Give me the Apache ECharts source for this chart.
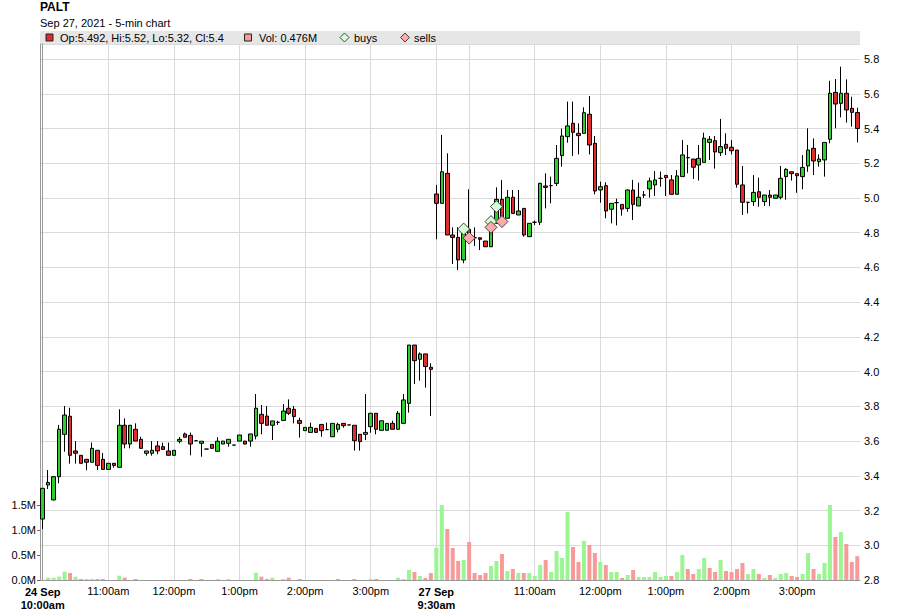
<!DOCTYPE html>
<html><head><meta charset="utf-8">
<script src="https://cdn.jsdelivr.net/npm/echarts@6/dist/echarts.min.js"></script>
<style>html,body{margin:0;padding:0;background:#fff}#c{width:900px;height:616px}</style>
</head><body><div id="c"></div>
<script>
const symbolName = 'PALT';
const subtitle = 'Sep 27, 2021 - 5-min chart';

// 5-minute bars: 24 Sep 10:00–15:55 (72 bars), 27 Sep 9:30–15:55 (78 bars)
const categories = [];
(function () {
  function pad(n) { return (n < 10 ? '0' : '') + n; }
  for (let i = 0; i < 72; i++) { const m = 600 + i * 5; categories.push('2021-09-24 ' + pad(Math.floor(m / 60)) + ':' + pad(m % 60)); }
  for (let i = 0; i < 78; i++) { const m = 570 + i * 5; categories.push('2021-09-27 ' + pad(Math.floor(m / 60)) + ':' + pad(m % 60)); }
})();

const opens = [
3.151,3.347,3.261,3.395,3.639,3.743,3.543,3.518,3.495,3.478,
3.547,3.495,3.437,3.472,3.449,3.691,3.583,3.668,3.610,3.530,
3.530,3.572,3.568,3.543,3.518,3.599,3.641,3.633,3.602,3.587,
3.554,3.581,3.541,3.583,3.587,3.577,3.600,3.600,3.600,3.629,
3.754,3.744,3.691,3.708,3.719,3.789,3.783,3.719,3.660,3.650,
3.673,3.696,3.666,3.625,3.668,3.702,3.693,3.691,3.639,3.639,
3.683,3.760,3.662,3.662,3.702,3.668,3.702,3.817,4.153,4.071,
4.102,4.025,5.023,4.969,5.142,4.787,4.773,4.643,4.819,4.771,
4.771,4.752,4.719,4.854,4.992,4.883,5.004,4.902,4.940,4.777,
4.860,4.860,5.069,5.071,5.084,5.244,5.353,5.430,5.372,5.372,
5.482,5.315,5.046,5.071,4.935,4.973,4.963,4.940,5.046,4.954,
5.017,5.052,5.075,5.113,5.130,5.104,5.021,5.123,5.232,5.224,
5.190,5.205,5.320,5.330,5.261,5.309,5.292,5.276,5.075,4.975,
4.979,5.036,4.979,5.017,4.998,5.004,5.123,5.151,5.140,5.123,
5.184,5.286,5.209,5.219,5.338,5.608,5.545,5.603,5.516,5.492];

const highs = [
3.328,3.433,3.397,3.693,3.802,3.792,3.600,3.518,3.495,3.591,
3.547,3.531,3.472,3.472,3.783,3.731,3.691,3.702,3.625,3.543,
3.600,3.600,3.591,3.591,3.547,3.623,3.649,3.649,3.602,3.599,
3.554,3.581,3.623,3.600,3.610,3.577,3.635,3.600,3.641,3.871,
3.808,3.802,3.716,3.717,3.813,3.840,3.802,3.735,3.679,3.706,
3.673,3.696,3.706,3.702,3.706,3.702,3.693,3.691,3.639,3.871,
3.760,3.760,3.717,3.702,3.717,3.773,3.871,4.153,4.153,4.111,
4.102,4.048,5.075,5.363,5.257,4.831,4.831,4.854,5.050,4.831,
4.771,4.752,4.873,5.061,5.103,5.046,5.046,5.046,4.940,4.854,
4.870,5.088,5.142,5.123,5.305,5.400,5.555,5.555,5.430,5.522,
5.587,5.357,5.094,5.090,4.969,4.996,4.963,5.050,5.104,5.088,
5.040,5.117,5.155,5.152,5.130,5.132,5.161,5.334,5.305,5.224,
5.305,5.376,5.357,5.357,5.455,5.372,5.334,5.276,5.184,4.975,
5.132,5.117,5.017,5.046,5.017,5.184,5.171,5.151,5.140,5.247,
5.401,5.343,5.251,5.320,5.675,5.685,5.756,5.683,5.583,5.52];

const lows = [
3.094,3.324,3.259,3.357,3.539,3.470,3.470,3.472,3.432,3.478,
3.433,3.437,3.437,3.447,3.449,3.558,3.558,3.600,3.558,3.516,
3.516,3.524,3.552,3.518,3.518,3.587,3.622,3.518,3.602,3.510,
3.554,3.558,3.541,3.583,3.568,3.577,3.600,3.581,3.568,3.610,
3.639,3.691,3.606,3.693,3.719,3.750,3.702,3.620,3.660,3.650,
3.650,3.625,3.666,3.625,3.650,3.677,3.693,3.545,3.545,3.606,
3.648,3.639,3.662,3.662,3.668,3.668,3.702,3.764,3.929,3.948,
3.908,3.744,4.762,4.969,4.787,4.620,4.585,4.624,4.770,4.723,
4.700,4.719,4.719,4.854,4.888,4.883,4.911,4.902,4.777,4.777,
4.844,4.844,4.940,4.969,5.069,5.180,5.318,5.242,5.251,5.372,
5.251,5.021,4.973,4.883,4.854,4.842,4.898,4.921,4.873,4.954,
5.000,5.002,5.011,5.065,5.011,5.021,5.021,5.123,5.142,5.109,
5.100,5.205,5.219,5.169,5.242,5.247,5.251,5.059,4.902,4.911,
4.954,4.950,4.954,4.954,4.998,4.992,4.990,5.100,5.030,5.050,
5.151,5.132,5.180,5.123,5.315,5.401,5.464,5.434,5.411,5.32];

const closes = [
3.328,3.362,3.395,3.668,3.750,3.518,3.530,3.472,3.478,3.558,
3.460,3.437,3.472,3.460,3.691,3.583,3.691,3.600,3.558,3.543,
3.547,3.543,3.552,3.518,3.547,3.610,3.622,3.583,3.602,3.599,
3.554,3.558,3.599,3.600,3.610,3.577,3.635,3.583,3.641,3.789,
3.702,3.691,3.716,3.708,3.773,3.760,3.741,3.702,3.679,3.679,
3.650,3.660,3.666,3.702,3.696,3.689,3.693,3.602,3.597,3.650,
3.760,3.668,3.717,3.702,3.668,3.760,3.837,4.153,4.063,4.102,
4.029,4.013,4.969,5.151,4.787,4.773,4.643,4.796,4.787,4.771,
4.762,4.719,4.864,4.992,4.888,5.004,4.911,4.925,4.787,4.854,
4.860,5.084,5.061,5.071,5.228,5.357,5.415,5.378,5.359,5.491,
5.305,5.040,5.065,4.925,4.969,4.973,4.936,5.046,4.963,5.004,
5.017,5.098,5.104,5.113,5.117,5.021,5.127,5.248,5.232,5.177,
5.228,5.344,5.338,5.265,5.296,5.286,5.272,5.079,4.975,4.975,
5.032,5.004,5.017,5.004,5.017,5.113,5.165,5.140,5.128,5.176,
5.276,5.213,5.224,5.320,5.603,5.541,5.603,5.507,5.493,5.4];

// volume in millions
const volumes = [
0,0.047,0.047,0.067,0.167,0.14,0.067,0.02,0.02,0.02,
0.02,0.02,0,0,0.087,0.047,0,0.02,0,0,
0,0,0,0,0,0,0,0.02,0,0.02,
0,0,0.02,0,0.02,0,0,0,0,0.147,
0.067,0.02,0.047,0,0.02,0.047,0,0.02,0,0,
0,0,0,0,0.02,0,0,0.02,0,0,
0.02,0.02,0,0,0,0.047,0.02,0.2,0.16,0.08,
0.04,0.14,0.647,1.50,1.02,0.64,0.38,0.40,0.76,0.14,
0.10,0.14,0.28,0.38,0.52,0.18,0.22,0.14,0.14,0.14,
0.08,0.30,0.40,0.16,0.58,0.44,1.36,0.66,0.36,0.78,
0.70,0.54,0.36,0.30,0.16,0.16,0.04,0.10,0.20,0.06,
0.06,0.06,0.16,0.06,0.08,0.08,0.16,0.50,0.22,0.12,
0.22,0.44,0.24,0.16,0.40,0.18,0.16,0.22,0.34,0.12,
0.22,0.12,0.04,0.10,0.04,0.12,0.14,0.08,0.06,0.12,
0.54,0.22,0.12,0.34,1.50,0.86,0.96,0.72,0.36,0.476];

const buyIdx = [77, 82, 83];
const buyPrice = [4.821, 4.864, 4.950];
const sellIdx = [78, 82, 84];
const sellPrice = [4.769, 4.831, 4.864];

const tickIdx = [0, 12, 24, 36, 48, 60, 72, 78, 90, 102, 114, 126, 138];
const tickLabels = ['24 Sep|10:00am', '11:00am', '12:00pm', '1:00pm', '2:00pm', '3:00pm', '27 Sep|9:30am', '', '11:00am', '12:00pm', '1:00pm', '2:00pm', '3:00pm'];
const gridIdx = tickIdx.slice(1);
const volTicks = [0, 0.5, 1.0, 1.5];

const FONT = 'Liberation Sans, Arial, sans-serif';
const GREEN = '#2ccf2c', RED = '#e02c2c';
const VUP = '#9af592', VDOWN = '#f89a9a';

const n = closes.length;
const last = n - 1;
const candleData = opens.map((o, i) => [o, closes[i], lows[i], highs[i]]);
const volData = volumes.map((v, i) => ({
  value: v,
  itemStyle: { color: (i === 0 || closes[i] >= closes[i - 1]) ? VUP : VDOWN }
}));

const chart = echarts.init(document.getElementById('c'), null, { renderer: 'svg' });
chart.setOption({
  animation: false,
  backgroundColor: '#fff',
  textStyle: { fontFamily: FONT },
  grid: { left: 40, right: 40, top: 44, bottom: 36, containLabel: false },
  xAxis: [
    {
      type: 'category', data: categories, boundaryGap: true,
      axisLine: { show: true, lineStyle: { color: '#999' } },
      axisTick: { show: false }, axisLabel: { show: false }, splitLine: { show: false }
    },
    {
      type: 'value', min: -0.5, max: n - 0.5, position: 'bottom',
      axisLine: { show: false },
      axisTick: { show: false, customValues: gridIdx },
      splitLine: { show: true, lineStyle: { color: '#dadada', width: 1 } },
      axisLabel: {
        customValues: tickIdx, margin: 5, color: '#000', fontSize: 11, fontFamily: FONT,
        formatter: function (v) {
          const k = tickIdx.indexOf(Math.round(v));
          if (k < 0) return '';
          const s = tickLabels[k];
          if (s.indexOf('|') >= 0) { const p = s.split('|'); return '{b|' + p[0] + '}\n{b|' + p[1] + '}'; }
          return s;
        },
        rich: { b: { fontWeight: 'bold', fontSize: 11, lineHeight: 13, fontFamily: FONT, color: '#000' } }
      }
    }
  ],
  yAxis: [
    {
      type: 'value', position: 'right', min: 2.8, max: 2.8 + 536 / 173.65, interval: 0.2,
      axisLine: { show: true, lineStyle: { color: '#999' } },
      axisTick: { show: false },
      axisLabel: { margin: 4, color: '#000', fontSize: 11, showMaxLabel: false, formatter: v => v.toFixed(1) },
      splitLine: { show: true, lineStyle: { color: '#dadada', width: 1 } }
    },
    {
      type: 'value', position: 'left', min: 0, max: 536 / 50,
      axisLine: { show: true, lineStyle: { color: '#999' } },
      axisTick: { show: true, length: 3, customValues: volTicks, lineStyle: { color: '#666' } },
      axisLabel: { customValues: volTicks, margin: 4, color: '#000', fontSize: 11, formatter: v => v.toFixed(1) + 'M' },
      splitLine: { show: false }
    }
  ],
  series: [
    {
      type: 'bar', name: 'Vol', xAxisIndex: 0, yAxisIndex: 1, data: volData,
      barWidth: 4, z: 1, silent: true
    },
    {
      type: 'candlestick', name: 'Price', xAxisIndex: 0, yAxisIndex: 0, data: candleData,
      barWidth: 4, z: 3,
      itemStyle: { color: GREEN, color0: RED, borderColor: '#000', borderColor0: '#000', borderWidth: 1 }
    },
    {
      type: 'scatter', name: 'buys', xAxisIndex: 0, yAxisIndex: 0, z: 5,
      symbol: 'diamond', symbolSize: 12,
      data: buyIdx.map((x, k) => [x, buyPrice[k]]),
      itemStyle: { color: '#d4ffd4', borderColor: '#444', borderWidth: 1, opacity: 1 }
    },
    {
      type: 'scatter', name: 'sells', xAxisIndex: 0, yAxisIndex: 0, z: 5,
      symbol: 'diamond', symbolSize: 12,
      data: sellIdx.map((x, k) => [x, sellPrice[k]]),
      itemStyle: { color: '#ffaaaa', borderColor: '#444', borderWidth: 1, opacity: 1 }
    }
  ],
  graphic: [
    { type: 'text', x: 40, y: 7, style: { text: symbolName, fontSize: 12, fontWeight: 'bold', fontFamily: FONT, fill: '#000', verticalAlign: 'middle' } },
    { type: 'text', x: 40, y: 23, style: { text: subtitle, fontSize: 11, fontFamily: FONT, fill: '#000', verticalAlign: 'middle' } },
    { type: 'rect', shape: { x: 40, y: 31, width: 820, height: 13 }, style: { fill: '#e6e6e6' }, z: -1 },
    { type: 'rect', shape: { x: 46, y: 34, width: 7, height: 7 }, style: { fill: '#dd2b2b', stroke: '#222', lineWidth: 1 } },
    { type: 'text', x: 60, y: 38, style: { text: 'Op:' + opens[last] + ', Hi:' + highs[last] + ', Lo:' + lows[last] + ', Cl:' + closes[last], fontSize: 11, fontFamily: FONT, fill: '#000', verticalAlign: 'middle' } },
    { type: 'rect', shape: { x: 244.5, y: 34, width: 7, height: 7 }, style: { fill: '#f79a9a', stroke: '#222', lineWidth: 1 } },
    { type: 'text', x: 259, y: 38, style: { text: 'Vol: ' + volumes[last] + 'M', fontSize: 11, fontFamily: FONT, fill: '#000', verticalAlign: 'middle' } },
    { type: 'polygon', shape: { points: [[344.5, 33], [349, 37.5], [344.5, 42], [340, 37.5]] }, style: { fill: '#d4ffd4', stroke: '#444', lineWidth: 1 } },
    { type: 'text', x: 354, y: 38, style: { text: 'buys', fontSize: 11, fontFamily: FONT, fill: '#000', verticalAlign: 'middle' } },
    { type: 'polygon', shape: { points: [[405, 33], [409.5, 37.5], [405, 42], [400.5, 37.5]] }, style: { fill: '#ffaaaa', stroke: '#444', lineWidth: 1 } },
    { type: 'text', x: 414, y: 38, style: { text: 'sells', fontSize: 11, fontFamily: FONT, fill: '#000', verticalAlign: 'middle' } }
  ]
});
</script>
</body></html>
